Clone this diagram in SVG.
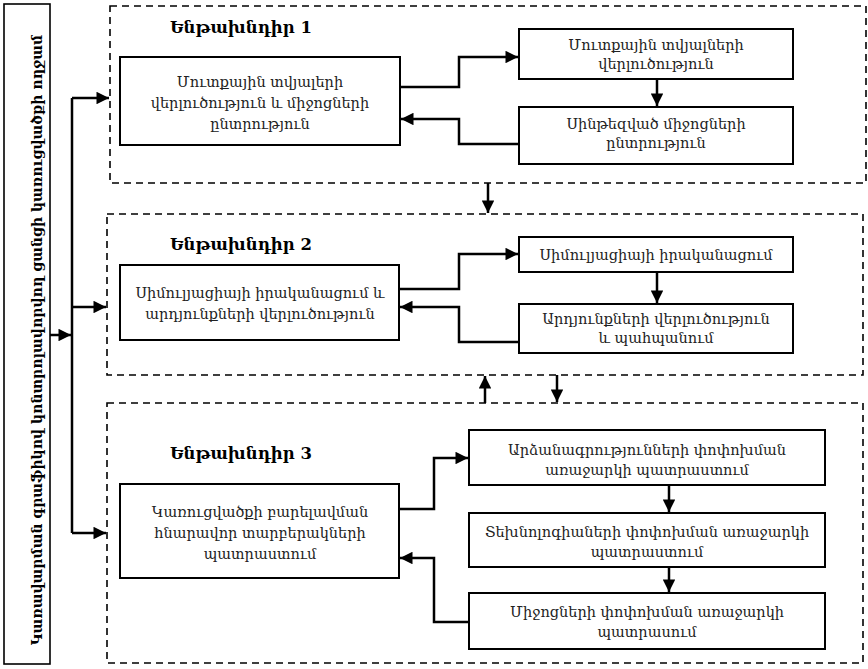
<svg xmlns="http://www.w3.org/2000/svg" width="868" height="669" viewBox="0 0 868 669">
<defs>
<marker id="ah" viewBox="0 0 10 10" refX="10" refY="5" markerWidth="5.5" markerHeight="5" markerUnits="strokeWidth" orient="auto">
<path d="M0,0 L10,5 L0,10 z" fill="#000"/>
</marker>
<style>
.grp{fill:none;stroke:#000;stroke-width:1.6;stroke-dasharray:7,5}
.nd{fill:#fff;stroke:#000;stroke-width:2}
.t{font-family:"DejaVu Serif","Noto Serif",serif;font-size:14.5px;fill:#222;text-anchor:middle}
.h{font-family:"DejaVu Serif","Noto Serif",serif;font-size:16.5px;font-weight:bold;fill:#000}
.c{fill:none;stroke:#000;stroke-width:2.5;marker-end:url(#ah)}
.l{fill:none;stroke:#000;stroke-width:2.5}
</style>
</defs>
<rect width="868" height="669" fill="#fff"/>

<g id="title">
<rect x="4" y="4" width="46" height="660" fill="#fff" stroke="#000" stroke-width="1.6"/>
<text transform="translate(42,340) rotate(-90)" font-family="DejaVu Serif,serif" font-size="14" font-weight="bold" text-anchor="middle" fill="#000">Կառավարման գրաֆիկով կոնտրոլավորվող ցանցի կառուցվածքի ողջամ</text>
</g>

<g id="group1">
<rect class="grp" x="110" y="6" width="756" height="177"/>
<text class="h" x="170" y="33">Ենթախնդիր 1</text>
</g>
<g id="group2">
<rect class="grp" x="107" y="214" width="756" height="161"/>
<text class="h" x="170" y="250">Ենթախնդիր 2</text>
</g>
<g id="group3">
<rect class="grp" x="107" y="403" width="756" height="260"/>
<text class="h" x="170" y="459">Ենթախնդիր 3</text>
</g>

<g id="n1a">
<rect class="nd" x="120" y="57" width="280" height="88"/>
<text class="t" x="260" y="87">Մուտքային տվյալերի</text>
<text class="t" x="260" y="108">վերլուծություն և միջոցների</text>
<text class="t" x="260" y="129">ընտրություն</text>
</g>
<g id="n1b">
<rect class="nd" x="519" y="29" width="274" height="50"/>
<text class="t" x="656" y="50">Մուտքային տվյալների</text>
<text class="t" x="656" y="69">վերլուծություն</text>
</g>
<g id="n1c">
<rect class="nd" x="519" y="107" width="274" height="57"/>
<text class="t" x="656" y="129">Սինթեզված միջոցների</text>
<text class="t" x="656" y="148">ընտրություն</text>
</g>

<g id="n2a">
<rect class="nd" x="120" y="265" width="279" height="75"/>
<text class="t" x="260" y="298">Սիմուլյացիայի իրականացում և</text>
<text class="t" x="260" y="319">արդյունքների վերլուծություն</text>
</g>
<g id="n2b">
<rect class="nd" x="519" y="237" width="274" height="35"/>
<text class="t" x="656" y="260">Սիմուլյացիայի իրականացում</text>
</g>
<g id="n2c">
<rect class="nd" x="519" y="304" width="274" height="49"/>
<text class="t" x="656" y="324">Արդյունքների վերլուծություն</text>
<text class="t" x="656" y="343">և պահպանում</text>
</g>

<g id="n3a">
<rect class="nd" x="120" y="484" width="279" height="94"/>
<text class="t" x="260" y="517">Կառուցվածքի բարելավման</text>
<text class="t" x="260" y="538">հնարավոր տարբերակների</text>
<text class="t" x="260" y="559">պատրաստում</text>
</g>
<g id="n3b">
<rect class="nd" x="469" y="430" width="356" height="55"/>
<text class="t" x="647" y="455">Արձանագրությունների փոփոխման</text>
<text class="t" x="647" y="475">առաջարկի պատրաստում</text>
</g>
<g id="n3c">
<rect class="nd" x="469" y="513" width="356" height="54"/>
<text class="t" x="647" y="537">Տեխնոլոգիաների փոփոխման առաջարկի</text>
<text class="t" x="647" y="557">պատրաստում</text>
</g>
<g id="n3d">
<rect class="nd" x="469" y="593" width="356" height="56"/>
<text class="t" x="647" y="617">Միջոցների փոփոխման առաջարկի</text>
<text class="t" x="647" y="637">պատրասում</text>
</g>

<g id="connectors">
<path class="l" d="M72,98 V533"/>
<path class="c" d="M50,335 H71"/>
<path class="c" d="M72,98 H109"/>
<path class="c" d="M72,307 H106"/>
<path class="c" d="M72,533 H106"/>

<path class="c" d="M488,183 V213"/>
<path class="c" d="M485,403 V376"/>
<path class="c" d="M557,375 V402"/>

<path class="c" d="M400,87 H459 V57 H518"/>
<path class="c" d="M519,144 H459 V119 H401"/>
<path class="c" d="M657,79 V106"/>

<path class="c" d="M399,289 H459 V254 H518"/>
<path class="c" d="M519,342 H459 V307 H400"/>
<path class="c" d="M657,272 V303"/>

<path class="c" d="M399,509 H434 V458 H468"/>
<path class="c" d="M469,622 H434 V558 H400"/>
<path class="c" d="M669,485 V512"/>
<path class="c" d="M669,567 V592"/>
</g>
</svg>
